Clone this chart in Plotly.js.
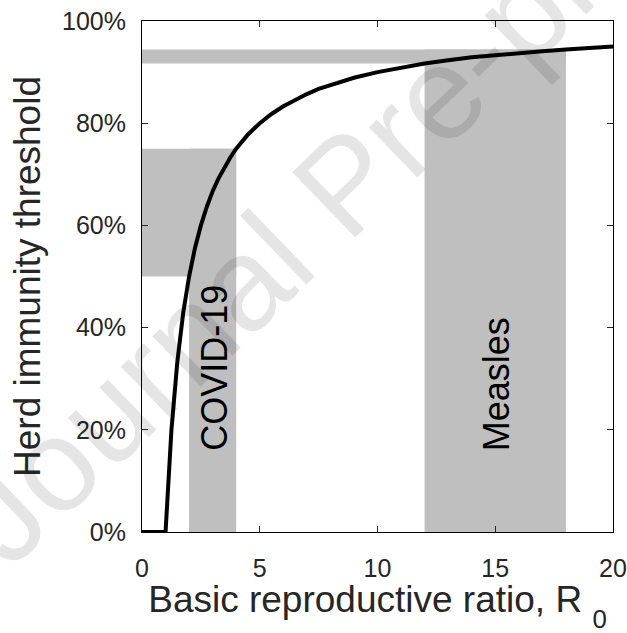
<!DOCTYPE html>
<html>
<head>
<meta charset="utf-8">
<script src="https://cdn.plot.ly/plotly-3.0.1.min.js"></script>
<style>html,body{margin:0;padding:0;background:#fff}#chart{width:627px;height:633px}</style>
</head>
<body>
<div id="chart"></div>
<script>
// Curve: basic reproductive ratio R0 vs herd immunity threshold
const r0Values = [0, 1, 1.25, 1.5, 1.75, 2, 2.25, 2.5, 2.75, 3, 3.25, 3.5, 3.75, 4, 4.5, 5, 5.5, 6, 6.5, 7, 7.5, 8, 9, 10, 11, 12, 13, 14, 15, 16, 17, 18, 19, 20];
const hitValues = [0, 0, 0.20, 0.333, 0.429, 0.50, 0.556, 0.60, 0.636, 0.667, 0.692, 0.714, 0.733, 0.75, 0.778, 0.80, 0.818, 0.833, 0.846, 0.857, 0.867, 0.875, 0.889, 0.90, 0.909, 0.917, 0.923, 0.929, 0.933, 0.9375, 0.941, 0.944, 0.947, 0.95];

// Disease ranges (shaded bands)
const diseaseNames = ['COVID-19', 'Measles'];
const r0Low = [2, 12];
const r0High = [4, 18];
const hitLow = [0.5, 0.917];
const hitHigh = [0.75, 0.944];
const labelR0 = [3.1, 15.05];
const labelHitStart = [0.155, 0.155];

// Axis ticks
const xTicks = [0, 5, 10, 15, 20];
const yTicks = [0, 0.2, 0.4, 0.6, 0.8, 1.0];

const bandColor = '#bfbfbf';
const shapes = [];
diseaseNames.forEach((name, i) => {
  shapes.push({type: 'rect', xref: 'x', yref: 'y', layer: 'below',
    x0: r0Low[i], x1: r0High[i], y0: 0, y1: hitHigh[i],
    fillcolor: bandColor, line: {width: 0}});
  shapes.push({type: 'rect', xref: 'x', yref: 'y', layer: 'below',
    x0: 0, x1: r0High[i], y0: hitLow[i], y1: hitHigh[i],
    fillcolor: bandColor, line: {width: 0}});
});

const annotations = diseaseNames.map((name, i) => ({
  x: labelR0[i], y: labelHitStart[i], xref: 'x', yref: 'y',
  text: name, showarrow: false, textangle: -90,
  xanchor: 'center', yanchor: 'bottom',
  font: {family: 'Liberation Sans, Arial, sans-serif', size: 36, color: '#000'}
}));
annotations.push({
  x: 0.43, y: 0.68, xref: 'paper', yref: 'paper',
  xanchor: 'center', yanchor: 'middle',
  text: 'Journal Pre-proof', showarrow: false, textangle: -44,
  font: {family: 'Liberation Sans, Arial, sans-serif', size: 132, color: 'rgba(0,0,0,0.1)'}
});

const tickFont = {family: 'Liberation Sans, Arial, sans-serif', size: 25, color: '#262626'};
const titleFont = {family: 'Liberation Sans, Arial, sans-serif', size: 37, color: '#262626'};

const data = [{
  x: r0Values, y: hitValues, type: 'scatter', mode: 'lines',
  line: {color: '#000', width: 4, shape: 'linear'},
  hoverinfo: 'skip', showlegend: false
}];

const layout = {
  width: 627, height: 633,
  margin: {l: 142, r: 14, t: 21, b: 101},
  paper_bgcolor: '#fff', plot_bgcolor: '#fff',
  showlegend: false,
  xaxis: {
    range: [0, 20], tickvals: xTicks, ticktext: xTicks.map(String),
    ticks: 'inside', ticklen: 6, tickwidth: 1, tickcolor: '#262626',
    showline: true, linecolor: '#000', linewidth: 1, mirror: 'ticks',
    showgrid: false, zeroline: false, tickfont: tickFont,
    ticklabelstandoff: 14,
    title: {text: 'Basic reproductive ratio, R <sub><span style="baseline-shift:-0.3em">0</span></sub>', font: titleFont, standoff: 12}
  },
  yaxis: {
    range: [0, 1], tickvals: yTicks, tickformat: '.0%',
    ticks: 'inside', ticklen: 6, tickwidth: 1, tickcolor: '#262626',
    showline: true, linecolor: '#000', linewidth: 1, mirror: 'ticks',
    showgrid: false, zeroline: false, tickfont: tickFont,
    ticklabelstandoff: 10,
    title: {text: 'Herd immunity threshold', font: titleFont, standoff: 10}
  },
  shapes: shapes,
  annotations: annotations
};

Plotly.newPlot('chart', data, layout, {displayModeBar: false, staticPlot: true});
</script>
</body>
</html>
